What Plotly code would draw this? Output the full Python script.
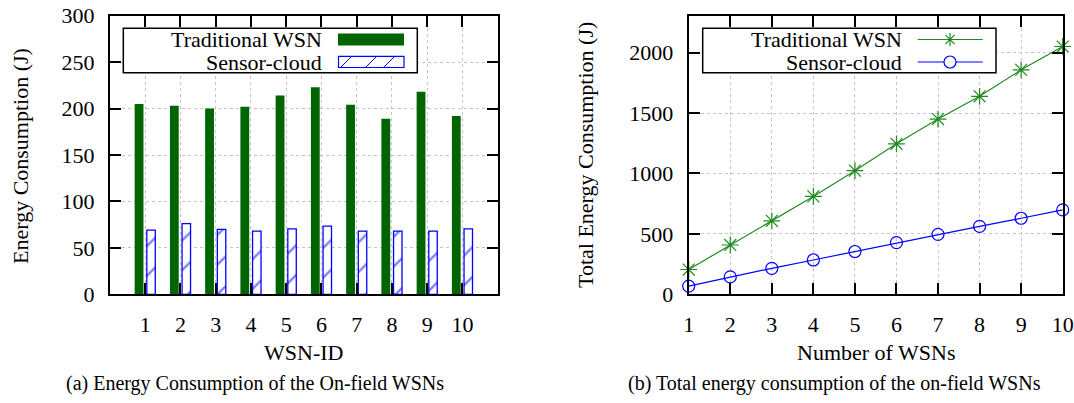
import plotly.graph_objects as go

# ---------------- data ----------------
wsn_ids = [1, 2, 3, 4, 5, 6, 7, 8, 9, 10]
trad_wsn = [205, 203, 200, 202, 214, 223, 204, 189, 218, 192]
sensor_cloud = [69, 76, 70, 68, 70.5, 73.5, 68, 68, 68, 70.5]

num_wsns = [1, 2, 3, 4, 5, 6, 7, 8, 9, 10]
total_trad = [205, 408, 608, 810, 1023, 1245, 1450, 1638, 1857, 2050]
total_sensor = [68, 144, 215, 284, 354, 428, 496, 562, 629, 698]

left_yticks = [0, 50, 100, 150, 200, 250, 300]
right_yticks = [0, 500, 1000, 1500, 2000]

series_names = ["Traditional WSN", "Sensor-cloud"]
captions = ["(a) Energy Consumption of the On-field WSNs",
            "(b) Total energy consumption of the on-field WSNs"]
xtitles = ["WSN-ID", "Number of WSNs"]
ytitles = ["Energy Consumption (J)", "Total Energy Consumption (J)"]

# ---------------- layout helpers ----------------
W, H = 1074, 403
FONT = "Liberation Serif, Times New Roman, serif"
GREEN_BAR = "#006400"
GREEN_LINE = "#1f8a1f"
BLUE = "#0000ff"
FS = 22


def X(px):
    return px / W


def Y(py):
    return 1 - py / H


L1, R1 = 110, 497.7
L2, R2 = 688.7, 1062.7
TOP, BOT = 15.7, 294.3

fig = go.Figure()

fig.add_trace(go.Bar(
    x=wsn_ids, y=trad_wsn, name=series_names[0], width=0.25, offset=-0.30,
    marker=dict(color=GREEN_BAR, line=dict(width=0)),
    xaxis="x", yaxis="y", showlegend=False))
fig.add_trace(go.Bar(
    x=wsn_ids, y=sensor_cloud, name=series_names[1], width=0.24, offset=0.045,
    marker=dict(color="white", line=dict(color=BLUE, width=1.3),
                pattern=dict(shape="/", fgcolor=BLUE, bgcolor="white",
                             size=21, solidity=0.11)),
    xaxis="x", yaxis="y", showlegend=False))

fig.add_trace(go.Scatter(
    x=num_wsns, y=total_trad, name=series_names[0], mode="lines+markers",
    line=dict(color=GREEN_LINE, width=1.2),
    marker=dict(symbol="asterisk-open", size=14,
                line=dict(color=GREEN_LINE, width=1.2)),
    xaxis="x2", yaxis="y2", showlegend=False, cliponaxis=False))
fig.add_trace(go.Scatter(
    x=num_wsns, y=total_sensor, name=series_names[1], mode="lines+markers",
    line=dict(color=BLUE, width=1.2),
    marker=dict(symbol="circle-open", size=12,
                line=dict(color=BLUE, width=1.2)),
    xaxis="x2", yaxis="y2", showlegend=False, cliponaxis=False))

axis_common = dict(
    showline=True, linecolor="black", linewidth=2, mirror="ticks",
    ticks="inside", ticklen=11, tickwidth=1.5, tickcolor="black",
    showgrid=True, gridcolor="#c4c4c4", gridwidth=1, griddash="dot",
    zeroline=False, tickfont=dict(family=FONT, size=FS, color="black"),
    ticklabelstandoff=9, automargin=False,
)

fig.update_layout(
    width=W, height=H,
    margin=dict(l=0, r=0, t=0, b=0, pad=0, autoexpand=False),
    paper_bgcolor="white", plot_bgcolor="white",
    barmode="overlay", font=dict(family=FONT, size=FS, color="black"),
    xaxis=dict(domain=[X(L1), X(R1)], range=[0, 11], tickvals=wsn_ids,
               anchor="y", **axis_common),
    yaxis=dict(domain=[Y(BOT), Y(TOP)], range=[0, 300], tickvals=left_yticks,
               anchor="x", **axis_common),
    xaxis2=dict(domain=[X(L2), X(R2)], range=[1, 10], tickvals=num_wsns,
                anchor="y2", **axis_common),
    yaxis2=dict(domain=[Y(BOT), Y(TOP)], range=[0, 2305], tickvals=right_yticks,
                anchor="x2", **axis_common),
)

ann = []
# axis titles
ann.append(dict(text=ytitles[0], x=X(20), y=Y(156), textangle=-90))
ann.append(dict(text=ytitles[1], x=X(585), y=Y(155), textangle=-90))
ann.append(dict(text=xtitles[0], x=X(303.8), y=Y(352)))
ann.append(dict(text=xtitles[1], x=X(875.7), y=Y(352)))
# captions
ann.append(dict(text=captions[0], x=X(254.5), y=Y(383), font=dict(size=20)))
ann.append(dict(text=captions[1], x=X(834), y=Y(383), font=dict(size=20)))

for a in ann:
    a.update(xref="paper", yref="paper", showarrow=False,
             xanchor="center", yanchor="middle", borderpad=0)
    f = dict(family=FONT, size=FS, color="black")
    f.update(a.get("font", {}))
    a["font"] = f

# legend texts
ROW1, ROW2 = 39.5, 62
for xr, row, name in [(323, ROW1, series_names[0]), (323, ROW2, series_names[1]),
                      (902.7, ROW1, series_names[0]), (902.7, ROW2, series_names[1])]:
    ann.append(dict(text=name, x=X(xr), y=Y(row), xref="paper", yref="paper",
                    showarrow=False, xanchor="right", yanchor="middle",
                    borderpad=0,
                    font=dict(family=FONT, size=FS, color="black")))

shapes = []
# legend boxes
for (x0, x1) in [(123.3, 417.3), (702.7, 996)]:
    shapes.append(dict(type="rect", xref="paper", yref="paper",
                       x0=X(x0), x1=X(x1), y0=Y(72.7), y1=Y(28.3),
                       line=dict(color="black", width=1.5), fillcolor="white",
                       layer="above"))
# left legend swatches
shapes.append(dict(type="rect", xref="paper", yref="paper",
                   x0=X(338), x1=X(404), y0=Y(45.5), y1=Y(33.5),
                   line=dict(width=0), fillcolor=GREEN_BAR, layer="above"))
shapes.append(dict(type="rect", xref="paper", yref="paper",
                   x0=X(338.5), x1=X(404), y0=Y(67.5), y1=Y(56.3),
                   line=dict(color=BLUE, width=1.2), fillcolor="white", layer="above"))
for sx in [341, 366, 384]:
    shapes.append(dict(type="line", xref="paper", yref="paper",
                       x0=X(sx), x1=X(sx + 10), y0=Y(67), y1=Y(57),
                       line=dict(color=BLUE, width=1), layer="above"))
# right legend line samples
shapes.append(dict(type="line", xref="paper", yref="paper",
                   x0=X(917.7), x1=X(982.7), y0=Y(ROW1), y1=Y(ROW1),
                   line=dict(color=GREEN_LINE, width=1.2), layer="above"))
shapes.append(dict(type="line", xref="paper", yref="paper",
                   x0=X(917.7), x1=X(982.7), y0=Y(ROW2), y1=Y(ROW2),
                   line=dict(color=BLUE, width=1.2), layer="above"))
# asterisk glyph
cx, cy, r = 950, ROW1, 6.5
d = r * 0.7071
path = (f"M{X(cx-r)},{Y(cy)} L{X(cx+r)},{Y(cy)} "
        f"M{X(cx)},{Y(cy-r)} L{X(cx)},{Y(cy+r)} "
        f"M{X(cx-d)},{Y(cy-d)} L{X(cx+d)},{Y(cy+d)} "
        f"M{X(cx-d)},{Y(cy+d)} L{X(cx+d)},{Y(cy-d)}")
shapes.append(dict(type="path", xref="paper", yref="paper", path=path,
                   line=dict(color=GREEN_LINE, width=1.2), layer="above"))
# circle glyph
cx, cy, r = 950, ROW2, 6
shapes.append(dict(type="circle", xref="paper", yref="paper",
                   x0=X(cx - r), x1=X(cx + r), y0=Y(cy + r), y1=Y(cy - r),
                   line=dict(color=BLUE, width=1.2), fillcolor="white", layer="above"))

fig.update_layout(annotations=ann, shapes=shapes)

fig.write_html("out.html")
